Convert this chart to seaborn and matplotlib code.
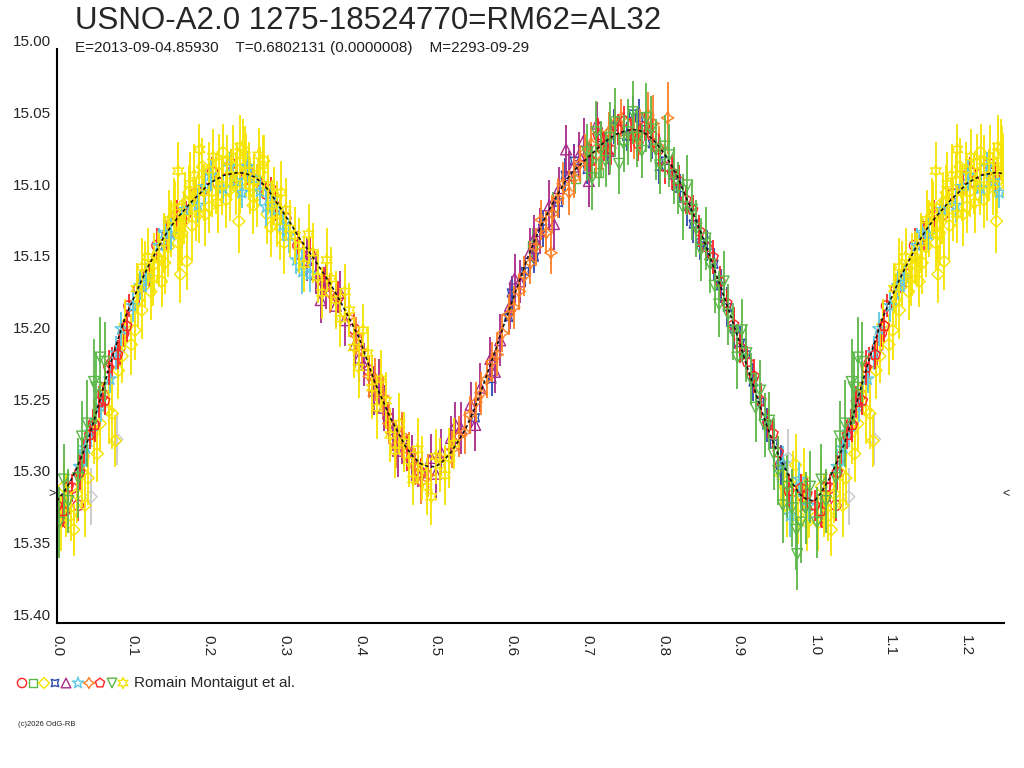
import numpy as np
import pandas as pd
import matplotlib
matplotlib.use('Agg')
import matplotlib.pyplot as plt
import matplotlib.transforms as mtrans
import seaborn as sns

title = 'USNO-A2.0 1275-18524770=RM62=AL32'
subtitle = 'E=2013-09-04.85930    T=0.6802131 (0.0000008)    M=2293-09-29'
observer = 'Romain Montaigut et al.'
credit = '(c)2026 OdG-RB'

# fitted light curve, one magnitude every 0.01 in phase (0.00 .. 1.00)
fit_mag = [15.315, 15.308, 15.299, 15.287, 15.274, 15.257, 15.238, 15.220, 15.203, 15.187,
           15.175, 15.163, 15.152, 15.142, 15.132, 15.124, 15.117, 15.111, 15.105, 15.100,
           15.094, 15.091, 15.088, 15.087, 15.086, 15.087, 15.089, 15.093, 15.099, 15.107,
           15.115, 15.123, 15.132, 15.139, 15.147, 15.155, 15.163, 15.172, 15.182, 15.192,
           15.203, 15.218, 15.233, 15.245, 15.257, 15.267, 15.277, 15.284, 15.289, 15.291,
           15.291, 15.287, 15.281, 15.273, 15.264, 15.252, 15.238, 15.223, 15.208, 15.192,
           15.177, 15.162, 15.147, 15.134, 15.122, 15.112, 15.102, 15.093, 15.086, 15.081,
           15.076, 15.071, 15.066, 15.062, 15.059, 15.057, 15.056, 15.057, 15.060, 15.065,
           15.072, 15.080, 15.090, 15.103, 15.115, 15.128, 15.142, 15.157, 15.172, 15.187,
           15.203, 15.220, 15.236, 15.252, 15.267, 15.280, 15.291, 15.302, 15.310, 15.314,
           15.315]

# observations: (phase, magnitude, error)
red_circle = [
    (0.010, 15.322, 0.012), (0.020, 15.306, 0.010), (0.028, 15.318, 0.011), (0.035, 15.284, 0.012),
    (0.048, 15.261, 0.010), (0.061, 15.241, 0.009), (0.072, 15.219, 0.011), (0.083, 15.208, 0.012),
    (0.088, 15.198, 0.010), (0.095, 15.179, 0.008), (0.108, 15.167, 0.010), (0.121, 15.157, 0.009),
    (0.132, 15.137, 0.012), (0.145, 15.130, 0.010), (0.158, 15.116, 0.011), (0.170, 15.115, 0.009),
    (0.182, 15.101, 0.010), (0.196, 15.097, 0.012), (0.205, 15.086, 0.011), (0.212, 15.093, 0.010),
    (0.224, 15.084, 0.009), (0.230, 15.080, 0.010), (0.238, 15.090, 0.011), (0.251, 15.085, 0.010),
    (0.264, 15.092, 0.012), (0.276, 15.101, 0.009), (0.283, 15.098, 0.009), (0.289, 15.110, 0.010),
    (0.302, 15.118, 0.011), (0.318, 15.137, 0.010), (0.334, 15.143, 0.012), (0.352, 15.162, 0.010),
    (0.371, 15.173, 0.011), (0.392, 15.195, 0.012), (0.412, 15.224, 0.010), (0.437, 15.257, 0.011),
    (0.462, 15.282, 0.012), (0.480, 15.295, 0.010), (0.955, 15.290, 0.012), (0.972, 15.308, 0.012),
    (0.985, 15.312, 0.010)]
green_square = [
    (0.628, 15.137, 0.012), (0.655, 15.110, 0.010), (0.684, 15.090, 0.011), (0.702, 15.077, 0.012),
    (0.715, 15.086, 0.010), (0.731, 15.059, 0.011), (0.748, 15.063, 0.010)]
yellow_diamond = [
    (0.005, 15.330, 0.020), (0.009, 15.305, 0.020), (0.012, 15.318, 0.022), (0.018, 15.325, 0.018),
    (0.022, 15.335, 0.018), (0.026, 15.310, 0.020), (0.033, 15.295, 0.024), (0.037, 15.318, 0.022),
    (0.041, 15.299, 0.019), (0.049, 15.267, 0.022), (0.053, 15.282, 0.020), (0.057, 15.261, 0.020),
    (0.064, 15.236, 0.018), (0.068, 15.252, 0.023), (0.073, 15.254, 0.025), (0.077, 15.273, 0.018),
    (0.081, 15.224, 0.020), (0.086, 15.214, 0.019), (0.090, 15.192, 0.018), (0.098, 15.206, 0.021),
    (0.103, 15.196, 0.021), (0.107, 15.175, 0.019), (0.112, 15.182, 0.020), (0.116, 15.157, 0.023),
    (0.124, 15.169, 0.020), (0.128, 15.150, 0.022), (0.133, 15.145, 0.018), (0.138, 15.162, 0.018),
    (0.142, 15.149, 0.022), (0.147, 15.138, 0.021), (0.151, 15.125, 0.020), (0.156, 15.112, 0.020),
    (0.160, 15.135, 0.019), (0.163, 15.157, 0.020), (0.165, 15.128, 0.023), (0.169, 15.107, 0.021),
    (0.171, 15.148, 0.020), (0.174, 15.100, 0.019), (0.178, 15.123, 0.024), (0.183, 15.112, 0.022),
    (0.187, 15.092, 0.020), (0.192, 15.082, 0.020), (0.196, 15.115, 0.022), (0.201, 15.110, 0.018),
    (0.205, 15.099, 0.018), (0.210, 15.094, 0.021), (0.214, 15.080, 0.021), (0.219, 15.072, 0.020),
    (0.223, 15.105, 0.020), (0.228, 15.098, 0.022), (0.232, 15.076, 0.023), (0.237, 15.084, 0.019),
    (0.240, 15.120, 0.022), (0.241, 15.096, 0.019), (0.246, 15.070, 0.021), (0.250, 15.081, 0.022),
    (0.255, 15.095, 0.020), (0.259, 15.109, 0.020), (0.264, 15.102, 0.022), (0.268, 15.086, 0.018),
    (0.273, 15.078, 0.018), (0.277, 15.115, 0.021), (0.282, 15.124, 0.021), (0.286, 15.102, 0.020),
    (0.291, 15.112, 0.020), (0.295, 15.125, 0.022), (0.300, 15.135, 0.022), (0.956, 15.297, 0.020),
    (0.960, 15.305, 0.020), (0.963, 15.318, 0.022), (0.971, 15.305, 0.025), (0.975, 15.290, 0.022),
    (0.978, 15.325, 0.020), (0.986, 15.300, 0.022), (0.990, 15.330, 0.020), (0.993, 15.322, 0.019)]
blue_cross = [
    (0.552, 15.257, 0.010), (0.574, 15.230, 0.012), (0.596, 15.187, 0.011), (0.600, 15.170, 0.012),
    (0.618, 15.155, 0.010), (0.630, 15.145, 0.011), (0.641, 15.125, 0.013), (0.662, 15.107, 0.011),
    (0.671, 15.088, 0.012), (0.683, 15.078, 0.012), (0.700, 15.084, 0.010), (0.718, 15.062, 0.011),
    (0.727, 15.070, 0.010), (0.735, 15.054, 0.012), (0.752, 15.061, 0.010), (0.760, 15.045, 0.012),
    (0.768, 15.048, 0.013), (0.777, 15.056, 0.011), (0.786, 15.066, 0.011), (0.795, 15.082, 0.012),
    (0.803, 15.078, 0.012), (0.813, 15.088, 0.011), (0.822, 15.097, 0.010), (0.831, 15.110, 0.013),
    (0.840, 15.122, 0.013), (0.849, 15.135, 0.012), (0.858, 15.137, 0.011), (0.867, 15.150, 0.011),
    (0.876, 15.165, 0.012), (0.885, 15.180, 0.014), (0.894, 15.195, 0.014), (0.902, 15.205, 0.012),
    (0.910, 15.213, 0.011), (0.919, 15.232, 0.013), (0.928, 15.246, 0.012), (0.937, 15.262, 0.012),
    (0.946, 15.275, 0.013), (0.955, 15.290, 0.014)]
purple_triangle = [
    (0.330, 15.147, 0.015), (0.342, 15.157, 0.014), (0.348, 15.175, 0.016), (0.355, 15.165, 0.016),
    (0.368, 15.179, 0.015), (0.374, 15.170, 0.015), (0.380, 15.189, 0.018), (0.393, 15.206, 0.016),
    (0.399, 15.215, 0.017), (0.405, 15.220, 0.015), (0.418, 15.238, 0.017), (0.425, 15.232, 0.016),
    (0.431, 15.250, 0.016), (0.444, 15.265, 0.015), (0.450, 15.280, 0.018), (0.456, 15.271, 0.018),
    (0.469, 15.285, 0.016), (0.476, 15.290, 0.015), (0.482, 15.295, 0.015), (0.494, 15.285, 0.017),
    (0.500, 15.296, 0.017), (0.507, 15.281, 0.016), (0.520, 15.271, 0.015), (0.526, 15.262, 0.016),
    (0.533, 15.264, 0.018), (0.546, 15.248, 0.016), (0.552, 15.262, 0.018), (0.559, 15.236, 0.017),
    (0.572, 15.216, 0.015), (0.578, 15.225, 0.015), (0.585, 15.203, 0.018), (0.598, 15.179, 0.016),
    (0.604, 15.160, 0.017), (0.611, 15.162, 0.015), (0.624, 15.142, 0.017), (0.630, 15.132, 0.016),
    (0.637, 15.127, 0.016), (0.650, 15.109, 0.018), (0.656, 15.122, 0.018), (0.663, 15.097, 0.015),
    (0.672, 15.070, 0.017), (0.676, 15.088, 0.017), (0.682, 15.082, 0.015), (0.689, 15.074, 0.016),
    (0.695, 15.064, 0.016), (0.702, 15.092, 0.018), (0.713, 15.052, 0.015), (0.728, 15.071, 0.017)]
cyan_star = [
    (0.030, 15.291, 0.012), (0.038, 15.278, 0.011), (0.045, 15.267, 0.010), (0.058, 15.249, 0.011),
    (0.070, 15.230, 0.010), (0.078, 15.212, 0.012), (0.085, 15.195, 0.012), (0.100, 15.179, 0.011),
    (0.110, 15.165, 0.010), (0.118, 15.159, 0.010), (0.135, 15.137, 0.012), (0.142, 15.128, 0.011),
    (0.150, 15.129, 0.011), (0.168, 15.112, 0.010), (0.186, 15.109, 0.012), (0.195, 15.096, 0.012),
    (0.203, 15.088, 0.011), (0.219, 15.097, 0.010), (0.228, 15.082, 0.010), (0.236, 15.092, 0.012),
    (0.244, 15.100, 0.011), (0.252, 15.082, 0.011), (0.260, 15.090, 0.012), (0.268, 15.099, 0.010),
    (0.276, 15.110, 0.013), (0.283, 15.105, 0.012), (0.290, 15.112, 0.011), (0.298, 15.123, 0.011),
    (0.306, 15.130, 0.012), (0.316, 15.147, 0.010), (0.324, 15.155, 0.016), (0.334, 15.157, 0.012),
    (0.958, 15.289, 0.012), (0.968, 15.325, 0.015), (0.980, 15.300, 0.012), (0.992, 15.318, 0.011)]
orange_star = [
    (0.360, 15.170, 0.014), (0.385, 15.187, 0.014), (0.395, 15.200, 0.013), (0.402, 15.210, 0.013),
    (0.412, 15.228, 0.015), (0.420, 15.230, 0.015), (0.430, 15.242, 0.014), (0.438, 15.261, 0.014),
    (0.447, 15.276, 0.016), (0.455, 15.269, 0.016), (0.464, 15.280, 0.013), (0.472, 15.291, 0.013),
    (0.481, 15.302, 0.015), (0.490, 15.297, 0.015), (0.505, 15.285, 0.014), (0.522, 15.279, 0.013),
    (0.530, 15.270, 0.014), (0.538, 15.267, 0.015), (0.545, 15.255, 0.013), (0.553, 15.246, 0.014),
    (0.560, 15.240, 0.015), (0.567, 15.230, 0.013), (0.574, 15.218, 0.014), (0.581, 15.213, 0.015),
    (0.588, 15.198, 0.013), (0.596, 15.185, 0.014), (0.603, 15.180, 0.015), (0.610, 15.169, 0.013),
    (0.617, 15.158, 0.014), (0.625, 15.149, 0.015), (0.632, 15.138, 0.013), (0.639, 15.119, 0.014),
    (0.646, 15.128, 0.015), (0.652, 15.142, 0.015), (0.654, 15.115, 0.013), (0.661, 15.104, 0.014),
    (0.668, 15.094, 0.015), (0.676, 15.100, 0.016), (0.683, 15.090, 0.014), (0.690, 15.080, 0.013),
    (0.697, 15.072, 0.013), (0.705, 15.066, 0.015), (0.712, 15.074, 0.015), (0.720, 15.070, 0.014),
    (0.728, 15.058, 0.014), (0.736, 15.052, 0.013), (0.745, 15.048, 0.013), (0.762, 15.062, 0.015),
    (0.770, 15.058, 0.016), (0.780, 15.046, 0.016), (0.787, 15.052, 0.020), (0.795, 15.068, 0.014),
    (0.806, 15.048, 0.025)]
red_pentagon = [
    (0.000, 15.318, 0.011), (0.008, 15.322, 0.011), (0.015, 15.305, 0.010), (0.030, 15.295, 0.012),
    (0.043, 15.269, 0.010), (0.050, 15.262, 0.012), (0.055, 15.246, 0.011), (0.063, 15.245, 0.010),
    (0.068, 15.222, 0.012), (0.080, 15.213, 0.010), (0.092, 15.193, 0.011), (0.705, 15.078, 0.012),
    (0.714, 15.060, 0.012), (0.722, 15.068, 0.010), (0.731, 15.070, 0.011), (0.740, 15.056, 0.011),
    (0.749, 15.050, 0.010), (0.758, 15.060, 0.012), (0.767, 15.066, 0.012), (0.776, 15.054, 0.010),
    (0.785, 15.060, 0.011), (0.794, 15.070, 0.011), (0.803, 15.082, 0.012), (0.812, 15.086, 0.012),
    (0.821, 15.092, 0.011), (0.830, 15.105, 0.010), (0.839, 15.112, 0.010), (0.848, 15.127, 0.011),
    (0.857, 15.138, 0.012), (0.866, 15.145, 0.012), (0.875, 15.162, 0.011), (0.884, 15.177, 0.010),
    (0.893, 15.192, 0.012), (0.902, 15.208, 0.011), (0.911, 15.218, 0.011), (0.920, 15.228, 0.012),
    (0.929, 15.245, 0.012), (0.938, 15.261, 0.010), (0.945, 15.268, 0.010), (0.952, 15.281, 0.011),
    (0.966, 15.308, 0.012), (0.982, 15.306, 0.010), (0.990, 15.310, 0.011)]
green_triangle = [
    (0.003, 15.330, 0.025), (0.009, 15.300, 0.025), (0.015, 15.315, 0.022), (0.028, 15.299, 0.028),
    (0.033, 15.270, 0.025), (0.040, 15.261, 0.030), (0.049, 15.232, 0.030), (0.052, 15.236, 0.025),
    (0.057, 15.215, 0.028), (0.063, 15.218, 0.028), (0.700, 15.072, 0.020), (0.706, 15.090, 0.022),
    (0.712, 15.058, 0.022), (0.718, 15.070, 0.020), (0.724, 15.078, 0.018), (0.730, 15.062, 0.025),
    (0.736, 15.051, 0.024), (0.742, 15.080, 0.021), (0.748, 15.066, 0.020), (0.754, 15.058, 0.023),
    (0.760, 15.044, 0.022), (0.766, 15.062, 0.020), (0.772, 15.071, 0.019), (0.778, 15.048, 0.024),
    (0.784, 15.056, 0.023), (0.790, 15.070, 0.021), (0.796, 15.081, 0.020), (0.802, 15.068, 0.022),
    (0.808, 15.074, 0.022), (0.814, 15.088, 0.020), (0.820, 15.097, 0.018), (0.826, 15.110, 0.023),
    (0.832, 15.095, 0.021), (0.838, 15.112, 0.021), (0.844, 15.125, 0.020), (0.850, 15.140, 0.022),
    (0.856, 15.132, 0.022), (0.862, 15.150, 0.020), (0.868, 15.165, 0.019), (0.874, 15.178, 0.023),
    (0.880, 15.162, 0.021), (0.886, 15.185, 0.021), (0.892, 15.197, 0.020), (0.898, 15.215, 0.022),
    (0.904, 15.196, 0.022), (0.910, 15.212, 0.020), (0.916, 15.230, 0.018), (0.922, 15.250, 0.024),
    (0.928, 15.238, 0.021), (0.934, 15.262, 0.022), (0.940, 15.259, 0.020), (0.946, 15.282, 0.025),
    (0.952, 15.294, 0.024), (0.958, 15.318, 0.026), (0.964, 15.305, 0.022), (0.970, 15.320, 0.027),
    (0.976, 15.335, 0.028), (0.977, 15.352, 0.025), (0.982, 15.330, 0.028), (0.988, 15.320, 0.025),
    (0.994, 15.305, 0.025)]
yellow_hexstar = [
    (0.105, 15.167, 0.018), (0.112, 15.152, 0.020), (0.120, 15.145, 0.020), (0.127, 15.160, 0.019),
    (0.135, 15.147, 0.019), (0.141, 15.135, 0.021), (0.148, 15.119, 0.021), (0.155, 15.110, 0.020),
    (0.160, 15.085, 0.020), (0.162, 15.129, 0.018), (0.168, 15.118, 0.018), (0.175, 15.094, 0.022),
    (0.181, 15.088, 0.022), (0.188, 15.115, 0.020), (0.188, 15.070, 0.018), (0.194, 15.100, 0.020),
    (0.200, 15.084, 0.019), (0.206, 15.075, 0.019), (0.212, 15.107, 0.021), (0.218, 15.095, 0.021),
    (0.224, 15.078, 0.018), (0.230, 15.088, 0.018), (0.236, 15.094, 0.022), (0.242, 15.068, 0.022),
    (0.248, 15.074, 0.020), (0.254, 15.085, 0.020), (0.260, 15.092, 0.019), (0.266, 15.074, 0.019),
    (0.272, 15.081, 0.021), (0.278, 15.095, 0.021), (0.284, 15.109, 0.018), (0.290, 15.120, 0.018),
    (0.296, 15.100, 0.022), (0.302, 15.112, 0.022), (0.308, 15.125, 0.020), (0.314, 15.130, 0.020),
    (0.320, 15.137, 0.019), (0.326, 15.150, 0.019), (0.332, 15.129, 0.021), (0.338, 15.142, 0.021),
    (0.344, 15.159, 0.018), (0.350, 15.170, 0.018), (0.356, 15.147, 0.022), (0.362, 15.160, 0.022),
    (0.368, 15.175, 0.020), (0.374, 15.188, 0.020), (0.380, 15.169, 0.019), (0.386, 15.182, 0.019),
    (0.392, 15.208, 0.021), (0.398, 15.222, 0.021), (0.404, 15.196, 0.018), (0.410, 15.212, 0.018),
    (0.416, 15.236, 0.022), (0.422, 15.250, 0.022), (0.428, 15.230, 0.020), (0.434, 15.245, 0.020),
    (0.440, 15.269, 0.019), (0.446, 15.280, 0.019), (0.452, 15.261, 0.021), (0.458, 15.274, 0.021),
    (0.464, 15.287, 0.018), (0.470, 15.300, 0.018), (0.476, 15.279, 0.022), (0.482, 15.292, 0.022),
    (0.488, 15.305, 0.020), (0.494, 15.312, 0.020), (0.500, 15.284, 0.019), (0.506, 15.290, 0.019),
    (0.512, 15.297, 0.021), (0.518, 15.285, 0.021), (0.524, 15.275, 0.018)]
grey_rejected = [
    (0.012, 15.312, 0.015), (0.045, 15.312, 0.020), (0.079, 15.272, 0.018),
    (0.958, 15.300, 0.018), (0.965, 15.285, 0.020)]

# marker, colour, size (drawing order = legend order)
series = [
    (red_circle, 'o', '#ff2424', 55),
    (green_square, 's', '#5cb848', 40),
    (yellow_diamond, 'D', '#f6e400', 38),
    (blue_cross, (4, 1, 45), '#2c48b0', 70),
    (purple_triangle, '^', '#a82a8a', 60),
    (cyan_star, '*', '#5ec8e2', 90),
    (orange_star, (4, 1, 0), '#ff8024', 80),
    (red_pentagon, 'p', '#ff2424', 60),
    (green_triangle, 'v', '#5cb848', 60),
    (yellow_hexstar, (6, 1, 0), '#f6e400', 80),
]

sns.set_style('white')
plt.rcParams['font.family'] = ['Liberation Sans', 'DejaVu Sans']

fig = plt.figure(figsize=(10.24, 7.68), dpi=100)
ax = fig.add_axes([57 / 1024, 1 - 623 / 768, (1004 - 57) / 1024, (623 - 49) / 768])


def frame(rows):
    d = pd.DataFrame(rows, columns=['phase', 'mag', 'err'])
    # repeat the start of the cycle after phase 1
    return pd.concat([d, d[d.phase <= 0.25].assign(phase=lambda t: t.phase + 1)])


def draw(d, marker, color, size, z):
    ax.errorbar(d.phase, d.mag, yerr=d.err, fmt='none', ecolor=color,
                elinewidth=1.3, capsize=0, zorder=z)
    sns.scatterplot(data=d, x='phase', y='mag', marker=marker, s=size, ax=ax,
                    facecolors='none', edgecolors=color, linewidths=1.0,
                    zorder=z, legend=False)


draw(frame(grey_rejected), 'D', '#c8c8c8', 38, 1)
for i, (rows, mk, col, sz) in enumerate(series):
    draw(frame(rows), mk, col, sz, 2 + i * 0.01)

fit = pd.DataFrame({'phase': np.round(np.arange(101) * 0.01, 2), 'mag': fit_mag})
fit = pd.concat([fit, fit[fit.phase <= 0.25].assign(phase=lambda t: t.phase + 1)])
sns.lineplot(data=fit, x='phase', y='mag', ax=ax, color='#111111', lw=1.2,
             dashes=False, linestyle=(0, (2, 1.6)), zorder=5, sort=False)

ax.set_xlim(0, 1.25)
ax.set_ylim(15.40, 15.00)
ax.set_xlabel('')
ax.set_ylabel('')
for s in ['top', 'right']:
    ax.spines[s].set_visible(False)
for s in ['left', 'bottom']:
    ax.spines[s].set_linewidth(1.5)
    ax.spines[s].set_color('black')

ax.set_xticks(np.arange(0, 1.21, 0.1))
ax.set_xticks(np.arange(0.05, 1.26, 0.1), minor=True)
ax.set_xticklabels([f'{v:.1f}' for v in np.arange(0, 1.21, 0.1)], rotation=-90,
                   fontsize=11, va='top', ha='center')
off = mtrans.ScaledTranslation(5 / 100, 0, fig.dpi_scale_trans)
for lab in ax.get_xticklabels():
    lab.set_transform(lab.get_transform() + off)
ax.tick_params(axis='x', which='major', direction='out', length=7.5, width=1.5, pad=1, color='black')
ax.tick_params(axis='x', which='minor', direction='out', length=6, width=1.5, color='black')

yt = np.arange(15.00, 15.401, 0.05)
ax.set_yticks(yt)
ax.set_yticklabels([f'{v:.2f}' for v in yt], fontsize=11, va='bottom')
ax.tick_params(axis='y', direction='out', length=7.5, width=1.5, pad=-3, color='black')

ax.text(-0.006, 15.310, '>', fontsize=9, ha='center', va='center', clip_on=False)
ax.text(1.252, 15.310, '<', fontsize=9, ha='center', va='center', clip_on=False)

fig.text(75 / 1024, 1 - 21 / 768, title, fontsize=22.5, va='center', ha='left')
fig.text(75 / 1024, 1 - 48 / 768, subtitle, fontsize=11, va='center', ha='left', color='#202020')

# legend row at the bottom, laid out in pixel coordinates
lax = fig.add_axes([0, 0, 1, 1])
lax.set_xlim(0, 1024)
lax.set_ylim(768, 0)
lax.axis('off')
leg_x = [22, 33, 44, 55, 66, 78, 89, 100, 112, 123]
for lx, (rows, mk, col, sz) in zip(leg_x, series):
    lax.scatter([lx], [683], marker=mk, s=sz * 0.8, facecolors='none', edgecolors=col, linewidths=1.0)
lax.text(134, 683, observer, fontsize=11, va='center', ha='left')
lax.text(18, 725, credit, fontsize=5.5, va='center', ha='left')

fig.savefig('out.png', dpi=100)
